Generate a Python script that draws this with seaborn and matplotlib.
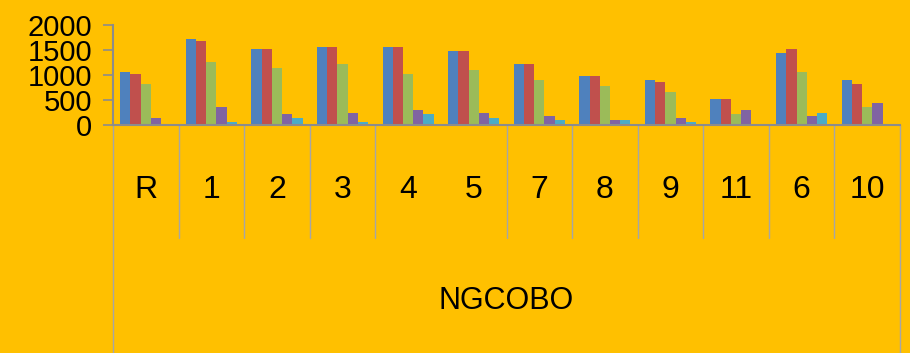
import pandas as pd
import matplotlib.pyplot as plt
import matplotlib.transforms as mtransforms
import seaborn as sns

# Values
categories = ['R', '1', '2', '3', '4', '5', '7', '8', '9', '11', '6', '10']
series_names = ['Series1', 'Series2', 'Series3', 'Series4', 'Series5']
series1 = [1050, 1710, 1510, 1550, 1550, 1470, 1210, 970, 890, 510, 1440, 890]
series2 = [1010, 1670, 1510, 1550, 1550, 1470, 1210, 970, 860, 510, 1510, 820]
series3 = [820, 1250, 1130, 1210, 1010, 1090, 890, 780, 660, 210, 1050, 360]
series4 = [130, 360, 210, 240, 290, 240, 170, 90, 130, 290, 170, 430]
series5 = [0, 50, 130, 50, 210, 130, 90, 90, 50, 0, 240, 0]
y_ticks = [0, 500, 1000, 1500, 2000]
group_label = 'NGCOBO'

colors = ['#4F81BD', '#C0504D', '#9BBB59', '#8064A2', '#4BACC6']
bg = '#FFC000'
line_gray = '#8C8C8C'

# Long-form table for seaborn
rows = []
for name, vals in zip(series_names, [series1, series2, series3, series4, series5]):
    for cat, v in zip(categories, vals):
        rows.append({'category': cat, 'series': name, 'value': v})
df = pd.DataFrame(rows)

sns.set_style('white')
plt.rcParams['font.family'] = ['Liberation Sans', 'DejaVu Sans']
plt.rcParams['text.color'] = 'black'
plt.rcParams['xtick.color'] = 'black'
plt.rcParams['ytick.color'] = 'black'

fig = plt.figure(figsize=(9.1, 3.53), dpi=100, facecolor=bg)
ax = fig.add_axes([113 / 910, 1 - 124.7 / 353, (900 - 113) / 910, 100 / 353])
ax.set_facecolor(bg)

sns.barplot(data=df, x='category', y='value', hue='series', order=categories,
            hue_order=series_names, palette=colors, saturation=1, width=0.78,
            edgecolor='none', legend=False, ax=ax)

ax.set_xlim(-0.5, len(categories) - 0.5)
ax.set_ylim(0, 2000)
ax.set_yticks(y_ticks)
ax.set_yticklabels([str(t) for t in y_ticks], fontsize=21, color='black')
ax.set_xlabel('')
ax.set_ylabel('')

for side in ['top', 'right']:
    ax.spines[side].set_visible(False)
for side in ['left', 'bottom']:
    ax.spines[side].set_color(line_gray)
    ax.spines[side].set_linewidth(1.5)

ax.tick_params(axis='y', direction='out', length=7, width=1.2, color=line_gray,
               labelcolor='black', pad=8, left=True)
ax.tick_params(axis='x', length=0, pad=36, labelcolor='black')
ax.set_xticks(range(len(categories)))
ax.set_xticklabels(categories, fontsize=23)

# Multi-level category separators
trans = mtransforms.blended_transform_factory(ax.transData, ax.transAxes)
for i in range(len(categories) - 1):
    if categories[i] == '4':
        continue
    ax.plot([i + 0.5, i + 0.5], [0, -1.133], transform=trans, color='#A6A6A6',
            linewidth=1, clip_on=False)
for xb in [-0.5, len(categories) - 0.5]:
    ax.plot([xb, xb], [0, -2.3], transform=trans, color='#A6A6A6',
            linewidth=1, clip_on=False)

ax.text((len(categories) - 1) / 2, -1.763, group_label, transform=trans,
        ha='center', va='center', fontsize=22, color='black')

fig.savefig('out.png', dpi=100, facecolor=bg)
